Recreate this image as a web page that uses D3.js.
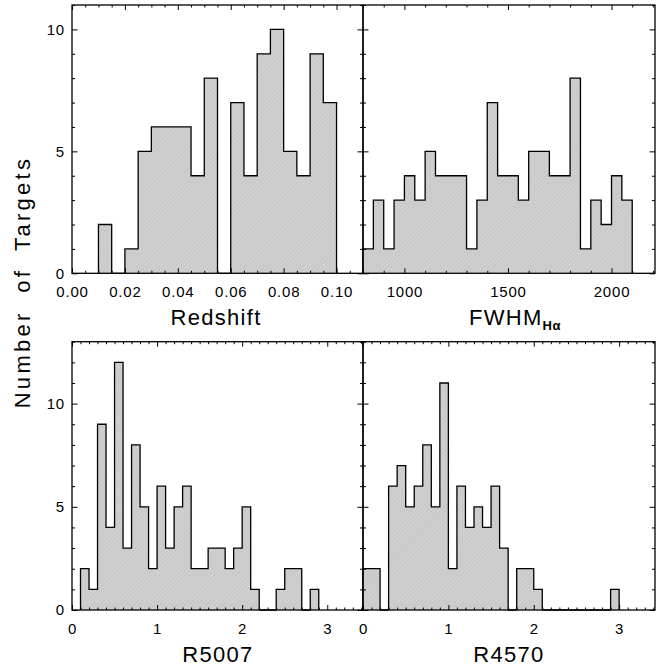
<!DOCTYPE html>
<html>
<head>
<meta charset="utf-8">
<script src="https://cdn.jsdelivr.net/npm/d3@7"></script>
<style>
  html, body { margin: 0; padding: 0; background: #fff; }
  svg text { font-family: "Liberation Sans", Arial, Helvetica, sans-serif; fill: #000; }
</style>
</head>
<body>
<svg id="chart" width="665" height="666"></svg>
<script>
// Histogram counts per bin, with the lower edge of the first bin and the bin width.
const redshiftStart = 0.01, redshiftWidth = 0.005;
const redshiftCounts = [2, 0, 1, 5, 6, 6, 6, 4, 8, 0, 7, 4, 9, 10, 5, 4, 9, 7];

const fwhmStart = 800, fwhmWidth = 50;
const fwhmCounts = [1, 3, 1, 3, 4, 3, 5, 4, 4, 4, 1, 3, 7, 4, 4, 3, 5, 5, 4, 4, 8, 1, 3, 2, 4, 3];

const r5007Start = 0.1, r5007Width = 0.1;
const r5007Counts = [2, 1, 9, 4, 12, 3, 8, 5, 2, 6, 3, 5, 6, 2, 2, 3, 3, 2, 3, 5, 1, 0, 0, 1, 2, 2, 0, 1];

const r4570Start = 0.0, r4570Width = 0.1;
const r4570Counts = [2, 2, 0, 6, 7, 5, 6, 8, 5, 11, 2, 6, 4, 5, 4, 6, 3, 0, 2, 2, 1, 0, 0, 0, 0, 0, 0, 0, 0, 1];

// Axis ranges and tick values
const redshiftDomain = [0, 0.11];
const redshiftMajor = [0, 0.02, 0.04, 0.06, 0.08, 0.10];
const fwhmDomain = [800, 2210];
const fwhmMajor = [1000, 1500, 2000];
const ratioDomain = [0, 3.42];
const ratioMajor = [0, 1, 2, 3];
const topCountDomain = [0, 11];
const bottomCountDomain = [0, 13];
const countMajor = [0, 5, 10];

const svg = d3.select("#chart");

// Diagonal hatch used to shade the histograms
const defs = svg.append("defs");
const pat = defs.append("pattern")
  .attr("id", "hatch")
  .attr("patternUnits", "userSpaceOnUse")
  .attr("width", 3).attr("height", 3)
  .attr("patternTransform", "rotate(45)");
pat.append("rect").attr("width", 3).attr("height", 3).attr("fill", "#d0d0d0");
pat.append("line").attr("x1", 0).attr("y1", 0).attr("x2", 0).attr("y2", 3)
  .attr("stroke", "#bababa").attr("stroke-width", 1);

const panels = [
  { x0: 72, x1: 363, y0: 5, y1: 273.3, xDomain: redshiftDomain, yDomain: topCountDomain,
    start: redshiftStart, width: redshiftWidth, counts: redshiftCounts,
    major: redshiftMajor, minorStep: 0.005, fmt: d3.format(".2f"), yLabels: true },
  { x0: 363, x1: 655, y0: 5, y1: 273.3, xDomain: fwhmDomain, yDomain: topCountDomain,
    start: fwhmStart, width: fwhmWidth, counts: fwhmCounts,
    major: fwhmMajor, minorStep: 100, fmt: d3.format("d"), yLabels: false },
  { x0: 72, x1: 363, y0: 341.7, y1: 610, xDomain: ratioDomain, yDomain: bottomCountDomain,
    start: r5007Start, width: r5007Width, counts: r5007Counts,
    major: ratioMajor, minorStep: 0.1, fmt: d3.format("d"), yLabels: true },
  { x0: 363, x1: 655, y0: 341.7, y1: 610, xDomain: ratioDomain, yDomain: bottomCountDomain,
    start: r4570Start, width: r4570Width, counts: r4570Counts,
    major: ratioMajor, minorStep: 0.1, fmt: d3.format("d"), yLabels: false }
];

function stepValues(domain, step) {
  const out = [];
  const first = Math.ceil(domain[0] / step - 1e-6);
  for (let i = first; i * step <= domain[1] + 1e-9; i++) out.push(+(i * step).toFixed(6));
  return out;
}

panels.forEach(p => {
  const x = d3.scaleLinear().domain(p.xDomain).range([p.x0, p.x1]);
  const y = d3.scaleLinear().domain(p.yDomain).range([p.y1, p.y0]);
  const g = svg.append("g");

  // Histogram as a stepped outline
  const pts = [[x(p.start), y(0)]];
  p.counts.forEach((c, i) => {
    const a = p.start + i * p.width, b = p.start + (i + 1) * p.width;
    pts.push([x(a), y(c)], [x(b), y(c)]);
  });
  pts.push([x(p.start + p.counts.length * p.width), y(0)]);
  const line = d3.line();

  g.append("path")
    .attr("d", line(pts) + "Z")
    .attr("fill", "url(#hatch)")
    .attr("stroke", "none");

  // Axes: ticks point inwards on all four sides
  const minorX = stepValues(p.xDomain, p.minorStep).filter(v => !p.major.some(m => Math.abs(m - v) < 1e-9));
  const minorY = stepValues(p.yDomain, 1).filter(v => !countMajor.includes(v));

  const addAxis = (axis, tx, ty) => {
    const a = g.append("g").attr("transform", `translate(${tx},${ty})`).call(axis);
    a.select(".domain").remove();
    a.selectAll(".tick line").attr("stroke", "#000").attr("stroke-width", 1);
    a.selectAll("text")
      .style("font-size", "15px")
      .style("letter-spacing", "0.8px")
      .attr("fill", "#000");
    return a;
  };

  addAxis(d3.axisBottom(x).tickValues(p.major).tickSize(-5).tickPadding(13).tickFormat(p.fmt), 0, p.y1);
  addAxis(d3.axisBottom(x).tickValues(minorX).tickSize(-2.5).tickFormat(""), 0, p.y1);
  addAxis(d3.axisTop(x).tickValues(p.major).tickSize(-5).tickFormat(""), 0, p.y0);
  addAxis(d3.axisTop(x).tickValues(minorX).tickSize(-2.5).tickFormat(""), 0, p.y0);

  addAxis(d3.axisLeft(y).tickValues(countMajor).tickSize(-5.5).tickPadding(7)
    .tickFormat(p.yLabels ? d3.format("d") : ""), p.x0, 0);
  addAxis(d3.axisLeft(y).tickValues(minorY).tickSize(-3).tickFormat(""), p.x0, 0);
  addAxis(d3.axisRight(y).tickValues(countMajor).tickSize(-5.5).tickFormat(""), p.x1, 0);
  addAxis(d3.axisRight(y).tickValues(minorY).tickSize(-3).tickFormat(""), p.x1, 0);

  g.append("path")
    .attr("d", line(pts))
    .attr("fill", "none")
    .attr("stroke", "#000")
    .attr("stroke-width", 1.3);

  // Frame
  g.append("rect")
    .attr("x", p.x0).attr("y", p.y0)
    .attr("width", p.x1 - p.x0).attr("height", p.y1 - p.y0)
    .attr("fill", "none").attr("stroke", "#000").attr("stroke-width", 1.3);
});

// Axis titles
const titleStyle = sel => sel.style("font-size", "22px").style("letter-spacing", "1.3px")
  .attr("text-anchor", "middle");

svg.append("text").attr("x", 216).attr("y", 325).text("Redshift").call(titleStyle);
const fw = svg.append("text").attr("x", 515).attr("y", 325).call(titleStyle);
fw.append("tspan").text("FWHM");
fw.append("tspan").attr("dy", 5).style("font-size", "13px").style("font-weight", "bold")
  .style("letter-spacing", "0.5px").text("Hα");
svg.append("text").attr("x", 218).attr("y", 662).text("R5007").call(titleStyle);
svg.append("text").attr("x", 509).attr("y", 662).text("R4570").call(titleStyle);

svg.append("text")
  .attr("transform", "translate(30,282) rotate(-90)")
  .style("font-size", "22px").style("letter-spacing", "3.3px").style("word-spacing", "8px")
  .attr("text-anchor", "middle")
  .text("Number of Targets");
</script>
</body>
</html>
